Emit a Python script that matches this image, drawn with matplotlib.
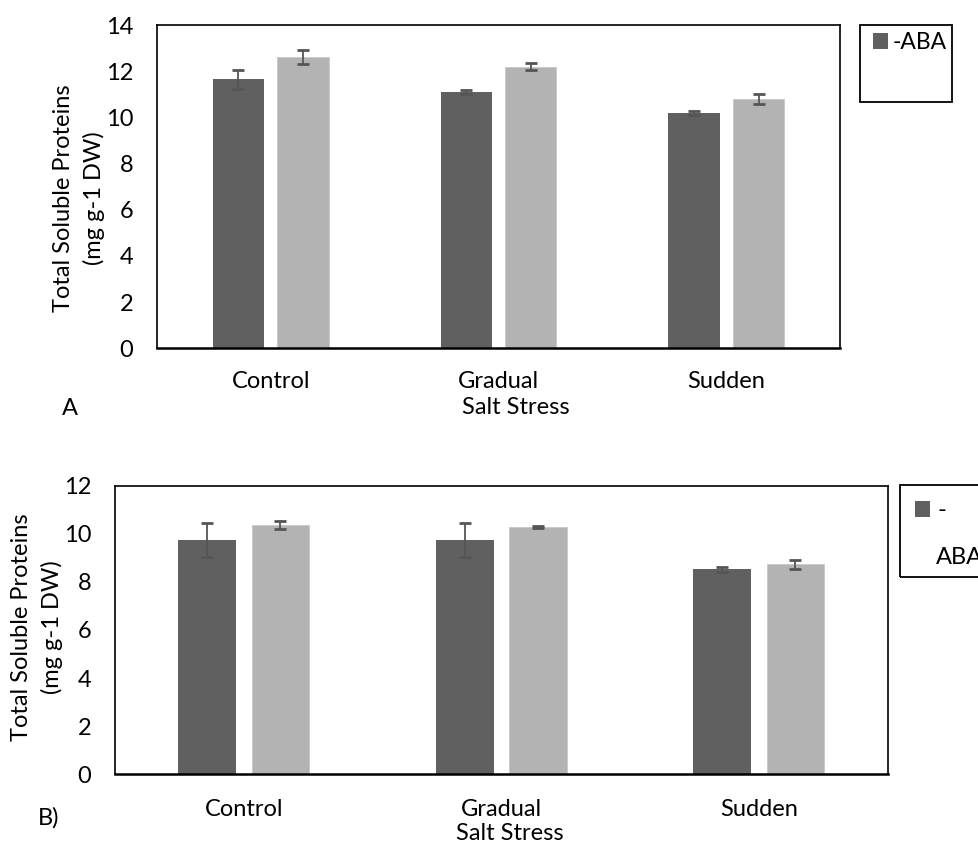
import matplotlib
matplotlib.use("Agg")
import matplotlib.pyplot as plt
from matplotlib.patches import Rectangle
import numpy as np

plt.rcParams['font.family'] = ['Lato', 'DejaVu Sans']
plt.rcParams['font.size'] = 17

# data
categories = ['Control', 'Gradual', 'Sudden']

# panel A
a_minus = [11.65, 11.10, 10.20]
a_minus_err = [0.40, 0.09, 0.08]
a_plus = [12.60, 12.20, 10.80]
a_plus_err = [0.31, 0.16, 0.20]

# panel B
b_minus = [9.75, 9.75, 8.52]
b_minus_err = [0.70, 0.70, 0.12]
b_plus = [10.37, 10.28, 8.73]
b_plus_err = [0.16, 0.05, 0.18]

a_yticks = [0, 2, 4, 6, 8, 10, 12, 14]
b_yticks = [0, 2, 4, 6, 8, 10, 12]

dark = '#606060'
light = '#b3b3b3'
err_col = '#555555'
ylabel = 'Total Soluble Proteins\n(mg g-1 DW)'
FS = 17

W, H = 979, 848
fig = plt.figure(figsize=(W / 100, H / 100), dpi=100)


def px_box(left, top, right, bottom):
    # pixel box -> figure fraction [l, b, w, h]
    return [left / W, 1 - bottom / H, (right - left) / W, (bottom - top) / H]


def draw_panel(ax, minus, minus_err, plus, plus_err, yticks, tick_pad):
    x = np.arange(len(categories))
    ekw = dict(ecolor=err_col, elinewidth=1.3, capsize=4.5, capthick=2)
    bars = ax.bar(x - 0.142, minus, 0.224, color=dark, yerr=minus_err,
                  error_kw=ekw, zorder=2)
    ax.bar(x + 0.142, plus, 0.224, color=light, edgecolor='#c8c8c8',
           linewidth=0.6, yerr=plus_err, error_kw=ekw, zorder=2)
    ax.set_xlim(-0.5, 2.5)
    ax.set_ylim(yticks[0], yticks[-1])
    ax.set_yticks(yticks)
    ax.set_xticks(x)
    ax.set_xticklabels(categories)
    ax.tick_params(axis='both', length=0, labelsize=FS, colors='black')
    ax.tick_params(axis='y', pad=17)
    ax.tick_params(axis='x', pad=tick_pad)
    for s in ax.spines.values():
        s.set_color('black')
        s.set_linewidth(1.2)
    ax.spines['bottom'].set_linewidth(1.8)
    ax.set_xlabel('Salt Stress', fontsize=FS)
    ax.set_ylabel(ylabel, fontsize=FS, linespacing=1.5)
    return bars


# panel A
axA = fig.add_axes(px_box(156.7, 25, 840.3, 348.3))
barsA = draw_panel(axA, a_minus, a_minus_err, a_plus, a_plus_err, a_yticks, 16)
axA.xaxis.set_label_coords(0.526, -0.152)
axA.yaxis.set_label_coords(-0.0756, 0.465)

# panel B
axB = fig.add_axes(px_box(115, 485.7, 887.7, 774.3))
barsB = draw_panel(axB, b_minus, b_minus_err, b_plus, b_plus_err, b_yticks, 17.5)
axB.xaxis.set_label_coords(0.511, -0.168)
axB.yaxis.set_label_coords(-0.067, 0.509)

# legend frames (Excel style boxes)
fig.patches.append(Rectangle((860 / W, 1 - 101.7 / H), 92 / W, 77 / H,
                             transform=fig.transFigure, fill=False,
                             edgecolor='black', linewidth=1.3))
fig.patches.append(Rectangle((900 / W, 1 - 577 / H), 110 / W, 92 / H,
                             transform=fig.transFigure, fill=False,
                             edgecolor='black', linewidth=1.3, clip_on=False))

legA = axA.legend([barsA], ['-ABA'], loc='upper left',
                  bbox_to_anchor=(873 / W, 1 - 32 / H),
                  bbox_transform=fig.transFigure, frameon=False,
                  borderpad=0, borderaxespad=0, handlelength=0.64,
                  handleheight=0.64, handletextpad=0.2, fontsize=16.5)
legB = axB.legend([barsB], ['-'], loc='upper left',
                  bbox_to_anchor=(915 / W, 1 - 500 / H),
                  bbox_transform=fig.transFigure, frameon=False,
                  borderpad=0, borderaxespad=0, handlelength=0.64,
                  handleheight=0.64, handletextpad=0.3, fontsize=FS)
fig.text(936 / W, 1 - 558 / H, 'ABA', fontsize=FS, ha='left', va='center')

# panel letters
fig.text(70 / W, 1 - 409 / H, 'A', fontsize=FS, ha='center', va='center')
fig.text(49 / W, 1 - 818 / H, 'B)', fontsize=FS, ha='center', va='center')

fig.savefig('out.png', dpi=100)
